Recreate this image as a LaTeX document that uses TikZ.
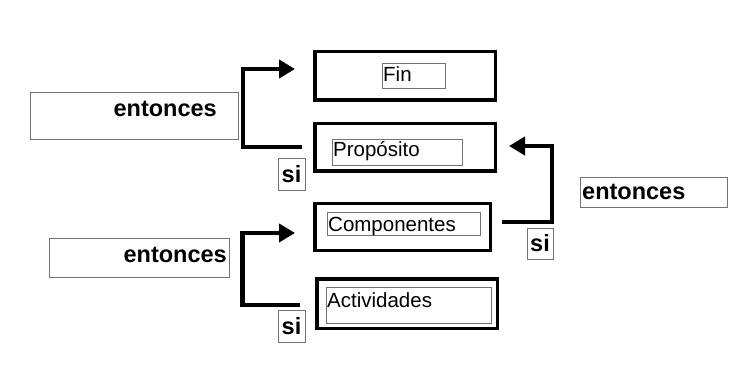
\documentclass[tikz,border=0pt]{standalone}
\usepackage{fontspec}
\setmainfont{Liberation Sans}
\usetikzlibrary{arrows.meta}
\tikzset{
  levelbox/.style={draw, line width=3.5pt, inner sep=0pt},
  namebox/.style={draw=black!55, line width=0.9pt, inner sep=0pt},
  thenbox/.style={draw=black!55, line width=0.9pt, inner sep=0pt},
  ifbox/.style={draw=black!55, line width=0.9pt, inner sep=0pt, minimum width=27pt, minimum height=32pt, font=\fontsize{23.5}{28}\selectfont\bfseries},
  nametext/.style={inner sep=0pt, font=\fontsize{20.5}{24}\selectfont},
  thentext/.style={inner sep=0pt, font=\fontsize{23.5}{28}\selectfont\bfseries},
  link/.style={line width=4.8pt, -{Triangle[length=16pt,width=18pt]}}
}
\begin{document}
\begin{tikzpicture}[x=1pt,y=-1pt]
  \useasboundingbox[fill=white] (0,0) rectangle (736,374);

  % the four levels
  \node[levelbox, minimum width=180.5pt, minimum height=48.5pt] (fin) at (405,76) {};
  \node[levelbox, minimum width=180.5pt, minimum height=47.5pt] (prop) at (405,147.5) {};
  \node[levelbox, minimum width=175.5pt, minimum height=46.5pt] (comp) at (402.5,227) {};
  \node[levelbox, minimum width=180.5pt, minimum height=49.5pt] (act) at (407,303.5) {};

  \node[namebox, minimum width=63pt, minimum height=25pt] (finbox) at (413.5,75.5) {};
  \node[namebox, minimum width=130pt, minimum height=26pt] (propbox) at (397,152) {};
  \node[namebox, minimum width=153pt, minimum height=23pt] (compbox) at (403.5,223.5) {};
  \node[namebox, minimum width=165pt, minimum height=36pt] (actbox) at (408.5,305) {};

  \node[nametext, anchor=base west] (fintext) at (383,82) {Fin};
  \node[nametext, anchor=base west] (proptext) at (333,157) {Propósito};
  \node[nametext, anchor=base west] (comptext) at (328,232) {Componentes};
  \node[nametext, anchor=base west] (acttext) at (327,307) {Actividades};

  % entonces / si
  \node[thenbox, minimum width=208pt, minimum height=47pt] (then1) at (134,115.5) {};
  \node[thenbox, minimum width=180pt, minimum height=39pt] (then2) at (139,257.5) {};
  \node[thenbox, minimum width=147pt, minimum height=30pt] (then3) at (653.5,192) {};
  \node[thentext, anchor=base east] (thentext1) at (217,117) {entonces};
  \node[thentext, anchor=base east] (thentext2) at (227,262) {entonces};
  \node[thentext, anchor=base west] (thentext3) at (582,200) {entonces};

  \node[ifbox] (if1) at (291.5,174) {si};
  \node[ifbox] (if2) at (291.5,326) {si};
  \node[ifbox, minimum width=26pt, minimum height=31pt] (if3) at (540,243.5) {si};

  % brackets
  \coordinate (from1) at (302,147);
  \coordinate (to1) at (295,69);
  \coordinate (from2) at (300,305);
  \coordinate (to2) at (295,233);
  \coordinate (from3) at (502,222);
  \coordinate (to3) at (509,146);
  \draw[link] (from1) -| ([xshift=4.5pt]then1.east) |- (to1);
  \draw[link] (from2) -| ([xshift=13pt]then2.east) |- (to2);
  \draw[link] (from3) -- ++(50,0) |- (to3);
\end{tikzpicture}
\end{document}
